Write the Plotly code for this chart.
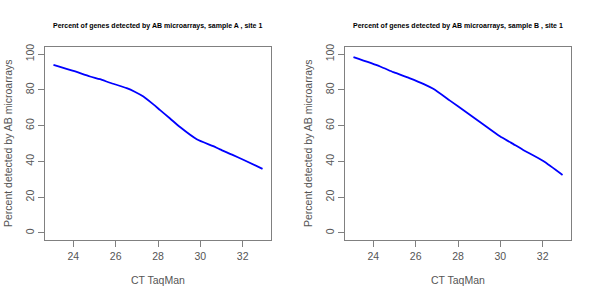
import plotly.graph_objects as go

# Sample A, site 1
ct_a = [23.06, 24.0, 24.79, 25.26, 25.73, 26.52, 26.9, 27.31, 27.78, 28.10, 28.57, 29.04, 29.83, 30.61, 30.93, 31.5, 32.03, 32.94]
pct_a = [94.0, 90.6, 87.5, 86.0, 84.0, 81.0, 79.0, 76.3, 71.9, 68.7, 64.0, 59.2, 52.4, 48.5, 46.7, 43.8, 40.9, 35.8]

# Sample B, site 1
ct_b = [23.06, 24.32, 24.95, 25.7, 26.36, 26.83, 27.62, 28.41, 29.20, 29.98, 30.5, 31.08, 32.03, 32.94]
pct_b = [98.3, 93.1, 89.9, 86.6, 83.4, 80.6, 74.0, 67.3, 60.6, 54.0, 50.5, 46.4, 40.2, 32.4]

titles = ["Percent of genes detected by AB microarrays, sample A , site 1",
          "Percent of genes detected by AB microarrays, sample B , site 1"]
x_ticks = [24, 26, 28, 30, 32]
y_ticks = [0, 20, 40, 60, 80, 100]
x_label = "CT TaqMan"
y_label = "Percent detected by AB microarrays"

fig = go.Figure()
fig.add_trace(go.Scatter(x=ct_a, y=pct_a, mode="lines",
                         line=dict(color="#0000FF", width=1.8, shape="spline", smoothing=0.6),
                         xaxis="x", yaxis="y", showlegend=False, hoverinfo="skip"))
fig.add_trace(go.Scatter(x=ct_b, y=pct_b, mode="lines",
                         line=dict(color="#0000FF", width=1.8, shape="spline", smoothing=0.6),
                         xaxis="x2", yaxis="y2", showlegend=False, hoverinfo="skip"))

font = "Liberation Sans, Arial, sans-serif"
axis_common = dict(showline=True, linecolor="#808080", linewidth=1, mirror=True,
                   ticks="outside", ticklen=6, tickcolor="#808080", showgrid=False,
                   zeroline=False, automargin=False,
                   tickfont=dict(family=font, size=10.5, color="#555555"))

doms = [(45/600, 271/600), (345/600, 571/600)]
ydom = (1 - 240/300, 1 - 47/300)

layout = dict(template="none", width=600, height=300, margin=dict(l=0, r=0, t=0, b=0, autoexpand=False),
              paper_bgcolor="white", plot_bgcolor="white", showlegend=False)
for i, suf in enumerate(["", "2"]):
    layout["xaxis" + suf] = dict(domain=doms[i], range=[22.66, 33.34], tickvals=x_ticks,
                                 anchor="y" + suf, **axis_common)
    layout["yaxis" + suf] = dict(domain=ydom, range=[-4, 104], tickvals=y_ticks, tickangle=-90,
                                 anchor="x" + suf, **axis_common)
fig.update_layout(**layout)

anns = []
for i in range(2):
    cx = (doms[i][0] + doms[i][1]) / 2
    anns.append(dict(text="<b>" + titles[i] + "</b>", x=cx, y=1 - 26/300, xref="paper", yref="paper",
                     showarrow=False, xanchor="center", yanchor="middle",
                     font=dict(family=font, size=7, color="black")))
    anns.append(dict(text=x_label, x=cx, y=1 - 280/300, xref="paper", yref="paper",
                     showarrow=False, xanchor="center", yanchor="middle",
                     font=dict(family=font, size=10.5, color="#555555")))
    anns.append(dict(text=y_label, x=(8 + 300*i)/600, y=1 - 143/300, xref="paper", yref="paper",
                     showarrow=False, xanchor="center", yanchor="middle", textangle=-90,
                     font=dict(family=font, size=10.5, color="#555555")))
fig.update_layout(annotations=anns)

fig.write_html("out.html", config={"displayModeBar": False},
               post_script="document.body.style.margin='0';document.body.style.overflow='hidden';")
